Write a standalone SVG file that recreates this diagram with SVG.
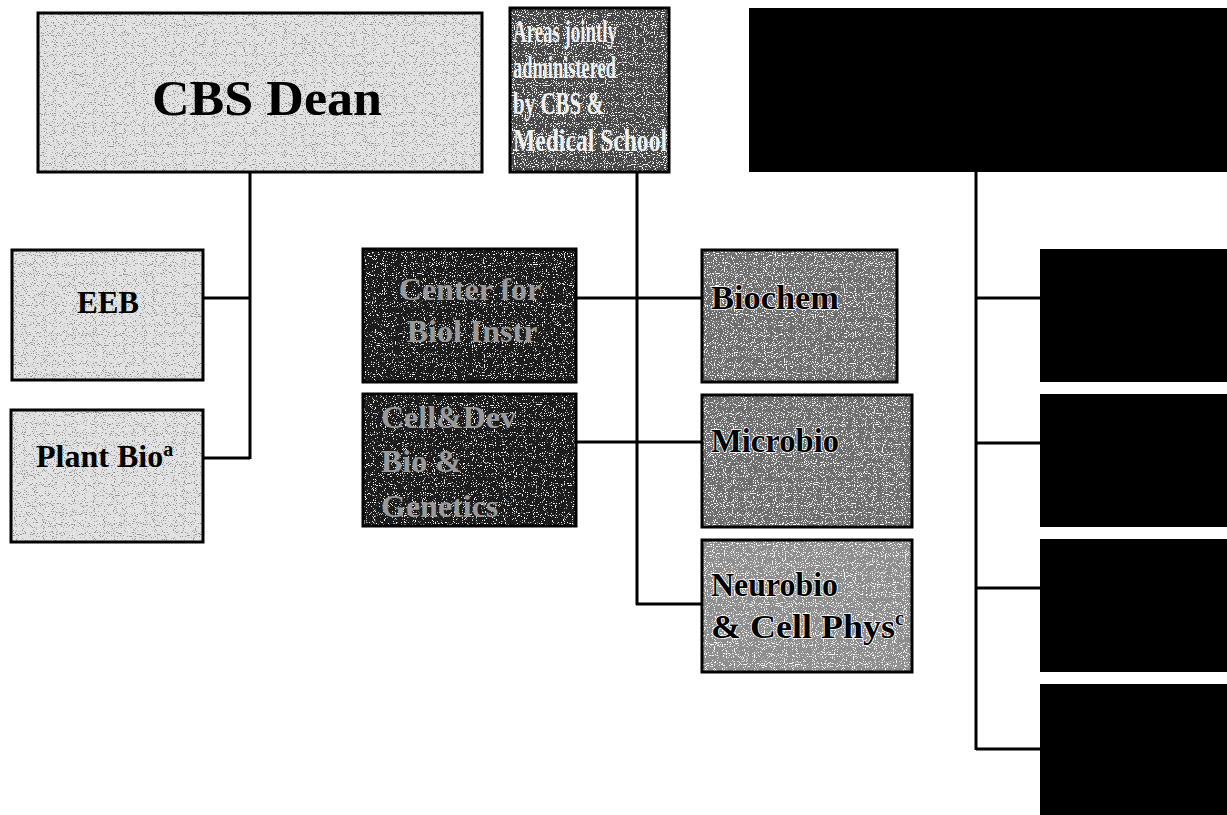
<svg xmlns="http://www.w3.org/2000/svg" width="1227" height="815" viewBox="0 0 1227 815">
<defs>
<filter id="dk" x="0" y="0" width="100%" height="100%">
<feTurbulence type="fractalNoise" baseFrequency="0.9" numOctaves="1" seed="7" result="t"/>
<feColorMatrix in="t" type="matrix" values="0 0 0 0 0.3  0 0 0 0 0.3  0 0 0 0 0.3  -14 0 0 0 5.8" result="d"/>
<feComposite in="d" in2="SourceAlpha" operator="in" result="dm"/>
<feMerge><feMergeNode in="SourceGraphic"/><feMergeNode in="dm"/></feMerge>
</filter>
<filter id="lt" x="0" y="0" width="100%" height="100%">
<feTurbulence type="fractalNoise" baseFrequency="0.9" numOctaves="1" seed="11" result="t"/>
<feColorMatrix in="t" type="matrix" values="0 0 0 0 1  0 0 0 0 1  0 0 0 0 1  -14 0 0 0 5.9" result="d"/>
<feComposite in="d" in2="SourceAlpha" operator="in" result="dm"/>
<feMerge><feMergeNode in="SourceGraphic"/><feMergeNode in="dm"/></feMerge>
</filter>
<filter id="lt2" x="0" y="0" width="100%" height="100%">
<feTurbulence type="fractalNoise" baseFrequency="0.9" numOctaves="1" seed="5" result="t"/>
<feColorMatrix in="t" type="matrix" values="0 0 0 0 1  0 0 0 0 1  0 0 0 0 1  -14 0 0 0 5.4" result="d"/>
<feComposite in="d" in2="SourceAlpha" operator="in" result="dm"/>
<feMerge><feMergeNode in="SourceGraphic"/><feMergeNode in="dm"/></feMerge>
</filter>
</defs>
<style>
.edge{fill:none;stroke:#000;stroke-width:3}
.light{fill:#e2e2e2}
.mid{fill:#6e6e6e}
.midl{fill:#8e8e8e}
.area{fill:#474747}
.dark{fill:#1a1a1a}
.blk{fill:#000;stroke:none}
text{font-family:"Liberation Serif","Times New Roman",serif;font-weight:bold}
.t-blk{fill:#000}
.t-halo{fill:#000;stroke:#fff;stroke-width:1.5;paint-order:stroke}
.t-wht{fill:#f0f0f0}
.t-gry{fill:#9a9a9a}
.conn{stroke:#000;stroke-width:3;fill:none}
</style>
<rect width="1227" height="815" fill="#fff"/>
<g id="connectors">
<path class="conn" d="M250 172 V459 M203 298 H250 M203 458 H250"/>
<path class="conn" d="M637 172 V605 M576 298 H702 M576 442 H702 M636 604 H702"/>
<path class="conn" d="M976 172 V750 M976 298 H1040 M976 443 H1040 M976 588 H1040 M976 749 H1040"/>
</g>
<g id="cbs-dean">
<rect class="light" x="38" y="13" width="444" height="159" filter="url(#dk)"/>
<rect class="edge" x="38" y="13" width="444" height="159"/>
<text class="t-blk" x="267" y="115" font-size="50" text-anchor="middle" textLength="230" lengthAdjust="spacingAndGlyphs">CBS Dean</text>
</g>
<g id="areas-jointly">
<rect class="area" x="510" y="8" width="159" height="164" filter="url(#lt)"/>
<rect class="edge" x="510" y="8" width="159" height="164"/>
<text class="t-wht" x="513" y="42" font-size="31" textLength="104" lengthAdjust="spacingAndGlyphs">Areas jointly</text>
<text class="t-wht" x="513" y="78" font-size="31" textLength="103" lengthAdjust="spacingAndGlyphs">administered</text>
<text class="t-wht" x="513" y="114" font-size="31" textLength="91" lengthAdjust="spacingAndGlyphs">by CBS &amp;</text>
<text class="t-wht" x="513" y="151" font-size="31" textLength="154" lengthAdjust="spacingAndGlyphs">Medical School</text>
</g>
<g id="black-top">
<rect class="blk" x="749" y="8" width="478" height="164"/>
</g>
<g id="eeb">
<rect class="light" x="12" y="250" width="191" height="130" filter="url(#dk)"/>
<rect class="edge" x="12" y="250" width="191" height="130"/>
<text class="t-blk" x="108" y="313" font-size="31" text-anchor="middle">EEB</text>
</g>
<g id="plant-bio">
<rect class="light" x="11" y="410" width="192" height="132" filter="url(#dk)"/>
<rect class="edge" x="11" y="410" width="192" height="132"/>
<text class="t-blk" x="36" y="467" font-size="32">Plant Bio<tspan font-size="20" dy="-11">a</tspan></text>
</g>
<g id="center-biol-instr">
<rect class="dark" x="363" y="249" width="213" height="133" filter="url(#lt2)"/>
<rect class="edge" x="363" y="249" width="213" height="133"/>
<text class="t-gry" x="470" y="300" font-size="32" text-anchor="middle">Center for</text>
<text class="t-gry" x="472" y="342" font-size="32" text-anchor="middle">Biol Instr</text>
</g>
<g id="cell-dev">
<rect class="dark" x="363" y="394" width="213" height="132" filter="url(#lt2)"/>
<rect class="edge" x="363" y="394" width="213" height="132"/>
<text class="t-gry" x="381" y="428" font-size="32">Cell&amp;Dev</text>
<text class="t-gry" x="381" y="472" font-size="32">Bio &amp;</text>
<text class="t-gry" x="381" y="517" font-size="32">Genetics</text>
</g>
<g id="biochem">
<rect class="mid" x="702" y="250" width="195" height="132" filter="url(#lt)"/>
<rect class="edge" x="702" y="250" width="195" height="132"/>
<text class="t-halo" x="711" y="309" font-size="34" textLength="128" lengthAdjust="spacingAndGlyphs">Biochem</text>
</g>
<g id="microbio">
<rect class="mid" x="702" y="395" width="210" height="132" filter="url(#lt)"/>
<rect class="edge" x="702" y="395" width="210" height="132"/>
<text class="t-halo" x="711" y="452" font-size="34" textLength="128" lengthAdjust="spacingAndGlyphs">Microbio</text>
</g>
<g id="neurobio">
<rect class="midl" x="702" y="540" width="210" height="132" filter="url(#lt)"/>
<rect class="edge" x="702" y="540" width="210" height="132"/>
<text class="t-halo" x="711" y="596" font-size="34" textLength="127" lengthAdjust="spacingAndGlyphs">Neurobio</text>
<text class="t-halo" x="711" y="638" font-size="34"><tspan textLength="184" lengthAdjust="spacingAndGlyphs">&amp; Cell Phys</tspan><tspan font-size="20" dy="-13">c</tspan></text>
</g>
<g id="right-1"><rect class="blk" x="1040" y="249" width="187" height="133"/></g>
<g id="right-2"><rect class="blk" x="1040" y="394" width="187" height="133"/></g>
<g id="right-3"><rect class="blk" x="1040" y="539" width="187" height="133"/></g>
<g id="right-4"><rect class="blk" x="1040" y="684" width="187" height="131"/></g>
</svg>
